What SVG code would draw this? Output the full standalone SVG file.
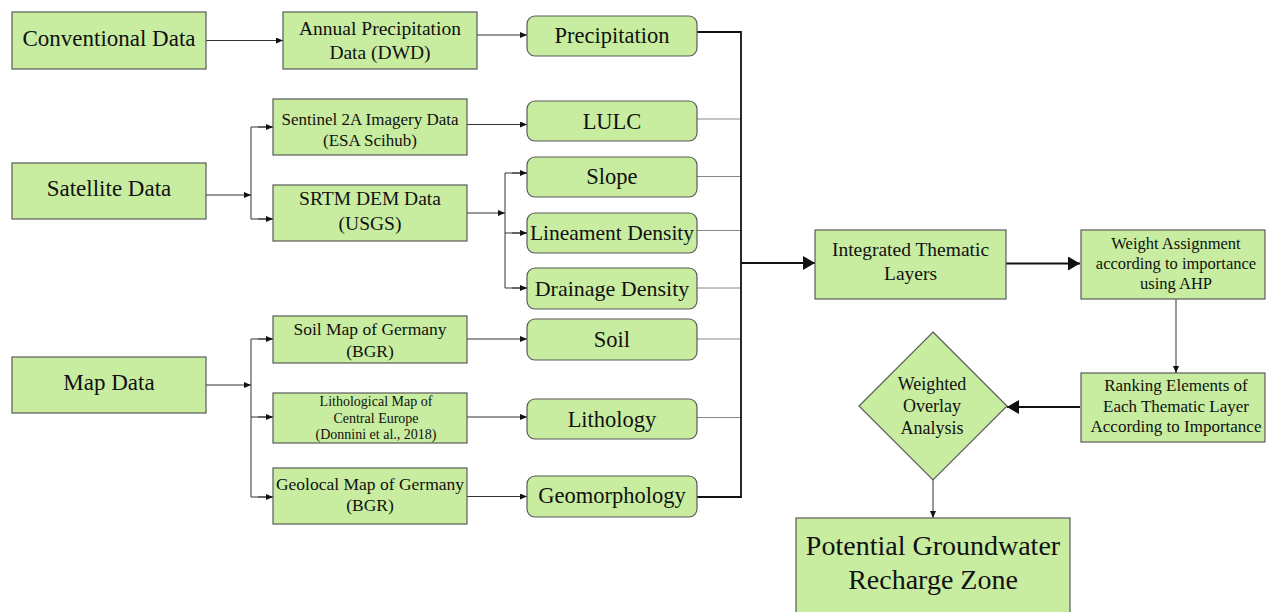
<svg xmlns="http://www.w3.org/2000/svg" width="1266" height="612" viewBox="0 0 1266 612">
<style>
.b{fill:#c8eda0;stroke:#5a5a5a;stroke-width:1.2}
.t{font-family:"Liberation Serif","Times New Roman",serif;fill:#111;text-anchor:middle}
.c{fill:none;stroke:#333;stroke-width:1}
.g{fill:none;stroke:#888;stroke-width:1}
.k{fill:none;stroke:#111;stroke-width:1.8}
</style>
<defs>
<marker id="s" markerUnits="userSpaceOnUse" markerWidth="7" markerHeight="6" refX="7" refY="3" orient="auto"><path d="M0,0 L7,3 L0,6 z" fill="#111"/></marker>
<marker id="L" markerUnits="userSpaceOnUse" markerWidth="12" markerHeight="14" refX="12" refY="7" orient="auto"><path d="M0,0 L12,7 L0,14 z" fill="#111"/></marker>
</defs>
<rect width="1266" height="612" fill="#fff"/>
<g id="connectors">
<path class="c" d="M206,40.5 H283" marker-end="url(#s)"/>
<path class="c" d="M206,195 H251" marker-end="url(#s)"/>
<path class="c" d="M251,127 V219 M251,127 H273 M251,219 H273"/>
<path class="c" d="M258,127 H273" marker-end="url(#s)"/>
<path class="c" d="M258,219 H273" marker-end="url(#s)"/>
<path class="c" d="M206,385 H251" marker-end="url(#s)"/>
<path class="c" d="M251,339 V497 M251,339 H273 M251,417 H273 M251,497 H273"/>
<path class="c" d="M258,339 H273" marker-end="url(#s)"/>
<path class="c" d="M258,417 H273" marker-end="url(#s)"/>
<path class="c" d="M258,497 H273" marker-end="url(#s)"/>
<path class="c" d="M477,35 H527" marker-end="url(#s)"/>
<path class="c" d="M467,124.5 H527" marker-end="url(#s)"/>
<path class="c" d="M467,213 H505" marker-end="url(#s)"/>
<path class="c" d="M505,173 V288 M505,173 H527 M505,233 H527 M505,288 H527"/>
<path class="c" d="M512,173 H527" marker-end="url(#s)"/>
<path class="c" d="M512,233 H527" marker-end="url(#s)"/>
<path class="c" d="M512,288 H527" marker-end="url(#s)"/>
<path class="c" d="M467,339 H527" marker-end="url(#s)"/>
<path class="c" d="M467,417 H527" marker-end="url(#s)"/>
<path class="c" d="M467,496.5 H527" marker-end="url(#s)"/>
<path class="g" d="M697,119 H741 M697,176.5 H741 M697,230.5 H741 M697,288 H741 M697,339 H741 M697,417.5 H741"/>
<path class="k" d="M697,32 H741 V497 H697"/>
<path class="k" d="M741,263 H815" marker-end="url(#L)"/>
<path class="k" d="M1006,263.5 H1080" marker-end="url(#L)"/>
<path class="c" d="M1176,299 V373" marker-end="url(#s)"/>
<path class="k" d="M1080,407 H1007" marker-end="url(#L)"/>
<path class="c" d="M933,480 V518" marker-end="url(#s)"/>
</g>
<g id="conventional"><rect class="b" x="12" y="12" width="194" height="57"/><text class="t" x="109" y="46" font-size="23">Conventional Data</text></g>
<g id="satellite"><rect class="b" x="12" y="163" width="194" height="56"/><text class="t" x="109" y="196" font-size="23">Satellite Data</text></g>
<g id="mapdata"><rect class="b" x="12" y="357" width="194" height="56"/><text class="t" x="109" y="390" font-size="23">Map Data</text></g>
<g id="annual"><rect class="b" x="283" y="12" width="194" height="57"/><text class="t" x="380" y="34.5" font-size="19.5">Annual Precipitation</text><text class="t" x="380" y="59" font-size="19.5">Data (DWD)</text></g>
<g id="sentinel"><rect class="b" x="273" y="99" width="194" height="56"/><text class="t" x="370" y="125" font-size="17">Sentinel 2A Imagery Data</text><text class="t" x="370" y="146" font-size="17">(ESA Scihub)</text></g>
<g id="srtm"><rect class="b" x="273" y="185" width="194" height="56"/><text class="t" x="370" y="205" font-size="19.5">SRTM DEM Data</text><text class="t" x="370" y="230" font-size="19.5">(USGS)</text></g>
<g id="soilmap"><rect class="b" x="273" y="316" width="194" height="47"/><text class="t" x="370" y="335" font-size="17.5">Soil Map of Germany</text><text class="t" x="370" y="357" font-size="17.5">(BGR)</text></g>
<g id="lithomap"><rect class="b" x="273" y="393" width="194" height="50"/><text class="t" x="376" y="406" font-size="14">Lithological Map of</text><text class="t" x="376" y="422.5" font-size="14">Central Europe</text><text class="t" x="376" y="439" font-size="14">(Donnini et al., 2018)</text></g>
<g id="geomap"><rect class="b" x="273" y="468" width="194" height="56"/><text class="t" x="370" y="490" font-size="17.5">Geolocal Map of Germany</text><text class="t" x="370" y="511" font-size="17.5">(BGR)</text></g>
<g id="precipitation"><rect class="b" x="527" y="16" width="170" height="40" rx="8"/><text class="t" x="612" y="42.5" font-size="22.5">Precipitation</text></g>
<g id="lulc"><rect class="b" x="527" y="101" width="170" height="40" rx="8"/><text class="t" x="612" y="128.5" font-size="22.5">LULC</text></g>
<g id="slope"><rect class="b" x="527" y="157" width="170" height="40" rx="8"/><text class="t" x="612" y="184" font-size="22.5">Slope</text></g>
<g id="lineament"><rect class="b" x="527" y="213" width="170" height="40" rx="8"/><text class="t" x="612" y="240" font-size="21.5">Lineament Density</text></g>
<g id="drainage"><rect class="b" x="527" y="268" width="170" height="41" rx="8"/><text class="t" x="612" y="296" font-size="22">Drainage Density</text></g>
<g id="soil"><rect class="b" x="527" y="319" width="170" height="41" rx="8"/><text class="t" x="612" y="346.5" font-size="22.5">Soil</text></g>
<g id="lithology"><rect class="b" x="527" y="399" width="170" height="40" rx="8"/><text class="t" x="612" y="426.5" font-size="22.5">Lithology</text></g>
<g id="geomorphology"><rect class="b" x="527" y="476" width="170" height="41" rx="8"/><text class="t" x="612" y="503" font-size="22.5">Geomorphology</text></g>
<g id="integrated"><rect class="b" x="815" y="230" width="191" height="69"/><text class="t" x="910.5" y="256" font-size="19.5">Integrated Thematic</text><text class="t" x="910.5" y="280" font-size="19.5">Layers</text></g>
<g id="weight"><rect class="b" x="1081" y="230" width="184" height="69"/><text class="t" x="1176" y="248.5" font-size="16.5">Weight Assignment</text><text class="t" x="1176" y="268.5" font-size="16.5">according to importance</text><text class="t" x="1176" y="288.5" font-size="16.5">using AHP</text></g>
<g id="ranking"><rect class="b" x="1081" y="373" width="184" height="69"/><text class="t" x="1176" y="391" font-size="17">Ranking Elements of</text><text class="t" x="1176" y="412" font-size="17">Each Thematic Layer</text><text class="t" x="1176" y="432" font-size="17">According to Importance</text></g>
<g id="overlay"><path class="b" d="M933,332 L1007,406 L933,480 L859,406 Z"/><text class="t" x="932" y="389.5" font-size="18">Weighted</text><text class="t" x="932" y="412" font-size="18">Overlay</text><text class="t" x="932" y="433.5" font-size="18">Analysis</text></g>
<g id="potential"><rect class="b" x="796" y="518" width="274" height="100"/><text class="t" x="933" y="555" font-size="28">Potential Groundwater</text><text class="t" x="933" y="588.5" font-size="28">Recharge Zone</text></g>
</svg>
